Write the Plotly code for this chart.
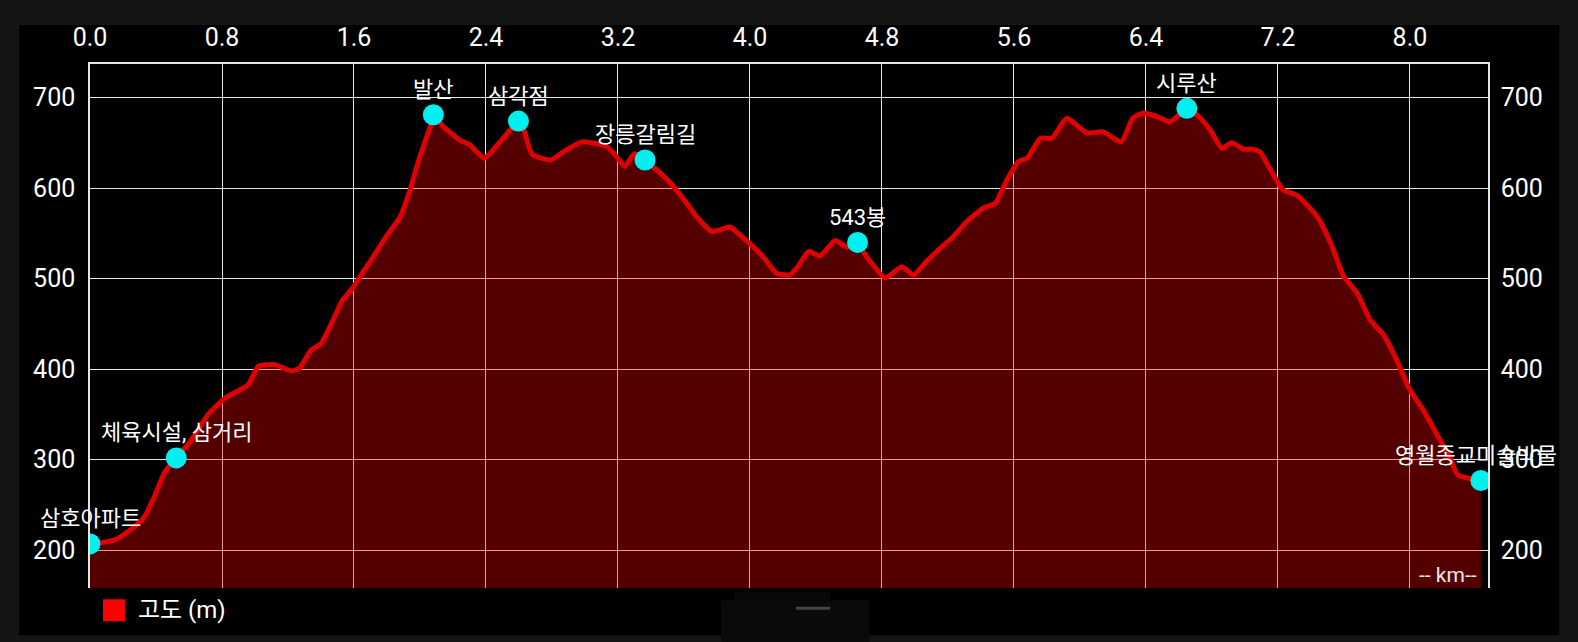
import plotly.graph_objects as go

# ---- data (distance in km, elevation in m) ----
dist_km = [0.00, 0.09, 0.17, 0.27, 0.33, 0.39, 0.45, 0.52, 0.60, 0.72, 0.82, 0.96,
           1.02, 1.12, 1.22, 1.27, 1.34, 1.40, 1.465, 1.53, 1.59, 1.65, 1.71, 1.79,
           1.88, 1.94, 2.00, 2.07, 2.08, 2.14, 2.24, 2.30, 2.39, 2.485, 2.556, 2.60,
           2.63, 2.68, 2.79, 2.87, 2.98, 3.13, 3.19, 3.24, 3.30, 3.36, 3.435, 3.536,
           3.617, 3.678, 3.769, 3.82, 3.88, 3.94, 4.02, 4.08, 4.16, 4.24, 4.29, 4.355,
           4.425, 4.516, 4.587, 4.65, 4.708, 4.82, 4.92, 4.99, 5.07, 5.15, 5.23, 5.315,
           5.415, 5.486, 5.557, 5.627, 5.68, 5.76, 5.83, 5.92, 6.04, 6.14, 6.25, 6.32,
           6.385, 6.466, 6.547, 6.65, 6.72, 6.79, 6.86, 6.92, 6.99, 7.04, 7.09, 7.15,
           7.23, 7.315, 7.44, 7.52, 7.60, 7.68, 7.76, 7.84, 7.92, 8.00, 8.08, 8.16,
           8.24, 8.29, 8.37, 8.43]
elev_m = [207, 209, 213, 226, 237, 259, 285, 302, 318, 351, 368, 383,
          403, 405, 398, 401, 421, 428, 451, 476, 489, 506, 522, 545,
          568, 598, 635, 672, 681, 668, 653, 648, 633, 651, 666, 674,
          664, 637, 631, 640, 651, 646, 635, 624, 638, 631, 620, 602,
          583, 568, 552, 554, 557, 548, 535, 524, 506, 504, 513, 530,
          525, 542, 535, 540, 524, 501, 513, 504, 519, 533, 546, 563,
          578, 583, 609, 629, 633, 655, 655, 677, 661, 662, 651, 677,
          683, 679, 673, 688, 679, 664, 644, 650, 643, 643, 640, 622,
          598, 592, 568, 539, 502, 484, 454, 438, 410, 377, 355, 329,
          303, 283, 279, 277]

wp_names = ["삼호아파트", "체육시설, 삼거리", "발산", "삼각점", "장릉갈림길",
            "543봉", "시루산", "영월종교미술박물관"]
wp_km = [0.0, 0.523, 2.081, 2.597, 3.364, 4.652, 6.648, 8.43]
wp_elev = [207, 302, 681, 674, 631, 540, 688, 277]

x_ticks = [0.0, 0.8, 1.6, 2.4, 3.2, 4.0, 4.8, 5.6, 6.4, 7.2, 8.0]
y_ticks = [200, 300, 400, 500, 600, 700]
x_range = [0, 8.473]
y_range = [158.3, 737]
legend_label = "고도 (m)"
unit_label = "-- km--"

# ---- layout helpers (pixel -> paper) ----
W, H = 1578, 642
L, R, T, B = 90, 90.3, 64, 54.3
PW, PH = W - L - R, H - T - B


def px(xp):
    return (xp - L) / PW


def py(yp):
    return (H - B - yp) / PH


TICK_FONT = dict(family="Roboto", size=25, color="white")
CJK = "Roboto, Noto Sans CJK KR"

fig = go.Figure()
fig.add_trace(go.Scatter(
    x=dist_km, y=elev_m, mode="lines", fill="tozeroy",
    fillcolor="rgba(255,0,0,0.33)",
    line=dict(color="#e00000", width=5, shape="spline", smoothing=0.5),
    hoverinfo="skip", showlegend=False))
fig.add_trace(go.Scatter(
    x=wp_km, y=wp_elev, mode="markers",
    marker=dict(color="#00f0f0", size=21, line=dict(width=0)),
    hoverinfo="skip", showlegend=False))
# invisible trace so the right-hand axis is drawn
fig.add_trace(go.Scatter(
    x=wp_km, y=wp_elev, yaxis="y2", mode="markers",
    marker=dict(opacity=0), hoverinfo="skip", showlegend=False))

annotations = []
for name, xk, ye in zip(wp_names, wp_km, wp_elev):
    if name == wp_names[-1]:
        annotations.append(dict(
            x=xk, y=ye, xref="x", yref="y", text=name, showarrow=False,
            xanchor="left", yanchor="middle", xshift=-88, yshift=25,
            width=162, align="left",
            font=dict(family=CJK, size=22, color="white")))
    else:
        annotations.append(dict(
            x=xk, y=ye, xref="x", yref="y", text=name, showarrow=False,
            xanchor="center", yanchor="middle", yshift=25,
            font=dict(family=CJK, size=22, color="white")))

annotations.append(dict(
    x=px(136), y=py(610), xref="paper", yref="paper", text=legend_label,
    showarrow=False, xanchor="left", yanchor="middle",
    font=dict(family=CJK, size=24, color="white")))
annotations.append(dict(
    x=1, y=0, xref="paper", yref="paper", text=unit_label, showarrow=False,
    xanchor="right", yanchor="bottom", xshift=-9, yshift=-1,
    font=dict(family="Roboto", size=21, color="#e8e8e8")))

shapes = [
    # black screen panel
    dict(type="rect", xref="paper", yref="paper", x0=px(19), x1=px(1559),
         y0=py(635), y1=py(25), fillcolor="black", line=dict(width=0), layer="below"),
    # navigation bar area
    dict(type="rect", xref="paper", yref="paper", x0=px(721), x1=px(869),
         y0=py(642), y1=py(600), fillcolor="#0a0a0a", line=dict(width=0), layer="below"),
    dict(type="rect", xref="paper", yref="paper", x0=px(734), x1=px(830),
         y0=py(600), y1=py(592), fillcolor="#090909", line=dict(width=0), layer="below"),
    dict(type="line", xref="paper", yref="paper", x0=px(796), x1=px(830),
         y0=py(608), y1=py(608), line=dict(color="#454545", width=3), layer="above"),
    # legend swatch
    dict(type="rect", xref="paper", yref="paper", x0=px(103), x1=px(125),
         y0=py(621), y1=py(599), fillcolor="#ff0000", line=dict(width=0), layer="above"),
]

axis_common = dict(range=y_range, tickvals=y_ticks, tickfont=TICK_FONT,
                   showline=True, linecolor="#e6e6e6", linewidth=1.5,
                   zeroline=False, ticks="", fixedrange=True)

fig.update_layout(
    width=W, height=H,
    margin=dict(l=L, r=R, t=T, b=B, pad=0),
    paper_bgcolor="#151515", plot_bgcolor="black",
    xaxis=dict(range=x_range, tickvals=x_ticks, tickformat=".1f", side="top",
               tickfont=TICK_FONT, showgrid=True, gridcolor="#e6e6e6", gridwidth=1.3,
               showline=True, linecolor="#e6e6e6", linewidth=1.5, zeroline=False,
               ticks="", ticklabelstandoff=6),
    yaxis=dict(side="left", showgrid=True, gridcolor="#e6e6e6", gridwidth=1.3,
               ticklabelstandoff=8, **axis_common),
    yaxis2=dict(side="right", overlaying="y", showgrid=False,
                ticklabelstandoff=6, **axis_common),
    annotations=annotations, shapes=shapes, showlegend=False,
)

fig.write_html(
    "out.html",
    config={"displayModeBar": False},
    post_script="document.body.style.margin='0';document.body.style.padding='0';"
                "document.body.style.background='#151515';",
)
